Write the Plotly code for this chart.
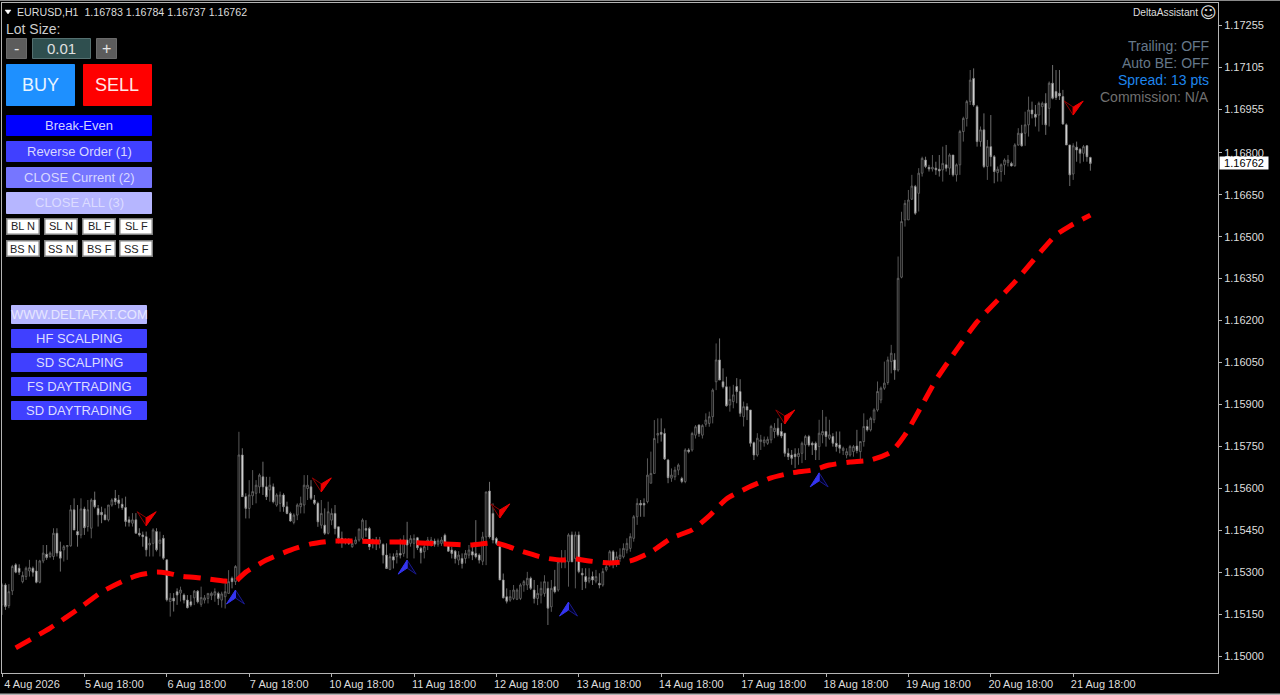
import plotly.graph_objects as go

# Prices are stored in points above 1.15000
BASE = 1.15
opens = [
183,254,180,233,326,314,266,284,304,314,
304,264,340,364,356,356,439,374,380,391,
394,523,445,433,526,463,457,558,528,514,
505,487,540,564,558,543,531,487,475,487,
439,433,427,397,403,445,403,421,344,195,
207,230,225,218,200,194,208,232,185,200,
206,216,218,224,200,212,224,278,266,272,
719,570,528,573,582,605,641,605,594,605,
540,546,576,534,510,478,504,534,540,599,
605,558,546,468,468,439,486,510,462,421,
415,415,391,403,415,421,456,456,415,415,
403,399,361,310,355,355,367,367,415,403,
403,423,385,373,403,403,411,400,403,432,
399,379,375,343,349,349,361,373,367,361,
339,426,590,510,420,391,272,212,200,206,
203,206,254,254,278,236,206,218,224,242,
176,248,236,337,337,337,433,349,433,296,
284,268,284,268,260,254,308,337,373,337,
349,355,379,385,421,498,546,546,552,618,
653,790,800,796,701,636,641,665,635,624,
737,737,790,826,790,829,832,856,981,1059,
981,963,898,910,964,946,856,892,880,763,
719,767,763,761,773,803,815,803,797,725,
719,722,713,725,755,785,761,761,749,791,
803,779,785,761,755,735,719,719,731,751,
731,767,821,809,845,880,916,958,978,1053,
1059,1023,1355,1560,1560,1634,1679,1655,1727,1774,
1748,1742,1745,1741,1739,1757,1745,1792,1721,1757,
1876,1923,1983,2066,1965,1840,1882,1751,1822,1786,
1729,1733,1757,1765,1762,1753,1828,1870,1870,1900,
1953,1938,1935,1965,1977,1959,2049,2019,2013,2001,
1900,1828,1724,1820,1813,1798,1825,1783]
highs = [
260,260,257,326,332,328,302,320,344,320,
344,344,397,397,374,457,457,409,397,397,
540,564,540,564,534,558,564,588,540,534,
528,540,564,594,576,564,570,499,511,511,
457,445,445,421,457,457,445,433,344,225,
225,242,248,224,218,218,236,236,248,218,
224,230,242,230,230,266,307,284,325,802,
743,582,629,665,629,653,695,641,641,617,
582,588,582,552,516,510,546,570,647,647,
629,576,552,558,528,552,528,540,462,445,
421,421,415,427,456,492,486,462,420,426,
426,403,403,367,367,379,420,432,480,432,
435,426,391,397,426,426,420,420,426,438,
403,391,379,375,367,379,397,403,486,367,
444,587,623,546,426,391,295,242,236,254,
242,260,272,301,284,272,254,266,289,266,
272,308,337,379,379,439,445,445,445,314,
314,314,302,308,296,314,337,379,379,373,
385,403,421,439,504,564,558,564,707,731,
844,850,850,814,705,671,677,689,641,743,
743,802,826,829,829,868,874,957,1118,1136,
1029,999,964,970,994,990,910,904,880,767,
797,791,785,785,827,833,850,833,797,743,
737,743,743,767,791,791,767,767,845,880,
856,845,797,803,803,749,743,755,755,809,
767,868,845,856,886,982,964,1053,1071,1113,
1083,1429,1589,1631,1667,1721,1685,1745,1786,1786,
1757,1792,1768,1792,1822,1828,1798,1792,1762,1882,
1929,1989,2096,2102,1971,1894,1941,1846,1935,1792,
1751,1762,1780,1792,1768,1834,1888,1900,1947,2001,
1983,1971,1983,1983,2013,2055,2114,2096,2096,2025,
1905,1828,1834,1840,1816,1828,1828,1786]
lows = [
147,165,171,218,296,290,260,272,284,284,
260,260,332,344,350,344,356,302,338,344,
391,451,391,421,433,445,421,528,463,475,
487,481,534,540,528,523,463,463,463,439,
427,391,356,356,356,374,356,344,195,141,
159,183,195,188,170,176,182,188,176,188,
188,200,194,182,173,170,224,242,254,266,
570,492,492,540,546,582,576,558,552,546,
534,516,516,507,480,471,486,510,510,558,
558,540,462,456,433,435,468,435,403,387,
399,397,387,399,409,415,426,379,385,379,
385,331,313,307,313,331,349,355,349,391,
349,379,331,349,379,391,391,391,394,394,
373,349,331,325,313,331,349,343,349,331,
325,325,420,403,397,272,206,188,194,200,
200,200,230,236,236,188,182,188,212,111,
158,224,230,314,314,248,337,242,296,236,
242,260,254,260,242,248,302,319,314,319,
337,349,367,373,409,469,498,498,546,618,
653,761,767,701,618,623,629,647,618,618,
725,731,778,784,778,820,820,832,951,987,
957,892,874,886,904,856,821,844,749,701,
713,737,749,755,761,779,785,779,713,701,
684,672,684,690,701,749,719,701,701,761,
749,773,749,731,725,719,707,713,713,725,
696,749,803,803,833,874,904,952,970,1011,
988,1017,1351,1536,1560,1631,1578,1590,1715,1745,
1733,1733,1721,1715,1697,1733,1721,1715,1697,1721,
1840,1894,1971,1965,1822,1822,1745,1703,1751,1691,
1697,1697,1721,1751,1751,1751,1825,1822,1825,1858,
1923,1894,1876,1900,1864,1894,1991,1989,1989,1900,
1828,1681,1703,1768,1762,1768,1768,1736]
closes = [
254,177,230,320,300,300,288,314,316,300,
264,340,368,352,368,439,368,350,391,395,
523,451,433,526,459,523,558,534,505,505,
487,540,558,552,546,531,481,478,487,439,
433,427,380,403,451,380,415,350,201,207,
197,218,236,200,173,182,232,194,209,208,
224,224,230,206,222,230,266,266,320,719,
570,528,576,588,611,647,605,570,611,552,
576,576,534,510,483,504,540,546,611,611,
564,546,480,510,439,516,510,456,421,411,
406,403,403,415,454,486,450,391,409,403,
415,361,313,355,343,367,361,415,397,420,
420,387,370,391,415,415,400,412,415,399,
375,367,349,361,331,367,379,361,355,343,
426,587,426,415,403,272,208,196,212,236,
236,254,266,278,242,206,224,242,266,171,
242,230,337,349,343,433,337,433,302,290,
266,280,272,284,254,302,319,373,331,355,
361,385,403,427,498,546,540,540,647,653,
778,796,793,705,638,647,665,683,624,737,
731,796,820,796,824,844,856,951,1059,987,
963,895,918,934,946,868,892,880,761,719,
779,773,773,775,821,815,791,787,725,713,
707,713,725,761,785,755,755,737,797,803,
785,791,761,749,743,743,731,749,749,735,
767,821,809,850,880,946,958,976,1059,1083,
1023,1351,1554,1619,1631,1681,1584,1727,1780,1751,
1742,1748,1739,1735,1762,1745,1792,1721,1757,1876,
1923,1983,2060,1971,1840,1882,1751,1822,1786,1733,
1741,1757,1774,1774,1753,1828,1870,1825,1900,1953,
1939,1927,1977,1977,1900,2049,1995,1998,2003,1903,
1828,1721,1825,1810,1798,1822,1786,1762]
assert len(opens) == len(highs) == len(lows) == len(closes)

ma_bars = [4,14,23,29,36,40,45,48,52,58,65,68,71,77,84,90,96,100,104,110,116,122,129,136,144,151,158,163,167,171,177,183,189,195,201,206,211,217,224,230,236,241,247,253,259,263,268,272,278,284,290,295,301,307,311,317]
ma_pts = [29,100,175,229,272,290,300,297,286,279,268,268,300,343,379,401,411,411,411,408,408,404,401,397,404,376,351,343,347,340,333,340,372,422,451,501,562,601,637,655,665,683,694,701,730,791,898,987,1095,1195,1273,1338,1424,1506,1538,1577]

sell_bars = [42,93,145,228,312]
sell_pts = [466,587,494,830,1935]
buy_bars = [68,118,165,238]
buy_pts = [236,343,193,655]

x_ticks = [0,24,48,72,96,120,144,168,192,216,240,264,288,312]
x_labels = ["4 Aug 2026","5 Aug 18:00","6 Aug 18:00","7 Aug 18:00","10 Aug 18:00","11 Aug 18:00","12 Aug 18:00","13 Aug 18:00","14 Aug 18:00","17 Aug 18:00","18 Aug 18:00","19 Aug 18:00","20 Aug 18:00","21 Aug 18:00"]
y_labels = ["1.15000","1.15150","1.15300","1.15450","1.15600","1.15750","1.15900","1.16050","1.16200","1.16350","1.16500","1.16650","1.16800","1.16955","1.17105","1.17255"]

W, H = 1280, 695
L, R, T, B = 2, 1218, 3, 673
FONT = "Liberation Sans"
bars = list(range(len(opens)))
to_price = lambda seq: [BASE + p / 1e5 for p in seq]

fig = go.Figure()
fig.add_trace(go.Candlestick(
    x=bars, open=to_price(opens), high=to_price(highs), low=to_price(lows), close=to_price(closes),
    increasing=dict(line=dict(color="#6e6e6e", width=0.8), fillcolor="#000000"),
    decreasing=dict(line=dict(color="#8c8c8c", width=0.8), fillcolor="#e6e6e6"),
    whiskerwidth=0, showlegend=False, hoverinfo="skip"))
fig.add_trace(go.Scatter(
    x=ma_bars, y=to_price(ma_pts), mode="lines",
    line=dict(color="#ff0000", width=5, dash="17px,10px", shape="spline", smoothing=0.6),
    showlegend=False, hoverinfo="skip"))

shapes, annos = [], []
px = lambda v: (v - L) / (R - L)
py = lambda v: (B - v) / (B - T)

def rect(x0, y0, x1, y1, fill, line=None, lw=1):
    i = lw / 2
    shapes.append(dict(type="rect", xref="paper", yref="paper", x0=px(x0 + i), x1=px(x1 - i), y0=py(y0 + i), y1=py(y1 - i),
                       fillcolor=fill, line=dict(color=line or fill, width=lw), layer="above"))

def label(x, y, text, color="#dddddd", size=13, anchor="center", font=FONT):
    annos.append(dict(xref="paper", yref="paper", x=px(x), y=py(y), text=text, showarrow=False,
                      xanchor=anchor, yanchor="middle", font=dict(family=font, size=size, color=color),
                      borderpad=0, borderwidth=0))

def button(x0, y0, x1, y1, fill, text, color="#dddddd", size=13, line=None, lw=1):
    rect(x0, y0, x1, y1, fill, line, lw)
    label((x0 + x1) / 2, (y0 + y1) / 2, text, color, size)

# Arrows: glyph outlines in pixels, anchored on their data points
for k, p in zip(sell_bars, sell_pts):
    y = BASE + p / 1e5
    common = dict(type="path", xref="x", yref="y", xsizemode="pixel", ysizemode="pixel", xanchor=k, yanchor=y, layer="above")
    shapes.append(dict(common, path="M0,0 L-9,14 L0,8 Z", fillcolor="#000000", line=dict(color="#900000", width=1)))
    shapes.append(dict(common, path="M0,0 L10,14 L0,8 Z", fillcolor="#ee0000", line=dict(color="#ee0000", width=1)))
for k, p in zip(buy_bars, buy_pts):
    y = BASE + p / 1e5
    common = dict(type="path", xref="x", yref="y", xsizemode="pixel", ysizemode="pixel", xanchor=k, yanchor=y, layer="above")
    shapes.append(dict(common, path="M0,0 L9,-14 L0,-8 Z", fillcolor="#000020", line=dict(color="#1a1a90", width=1)))
    shapes.append(dict(common, path="M0,0 L-9,-14 L0,-8 Z", fillcolor="#3434f0", line=dict(color="#3434f0", width=1)))

# Window edges
shapes.append(dict(type="rect", xref="paper", yref="paper", x0=-L/(R-L), x1=(W-L)/(R-L), y0=1.0+2/(B-T), y1=1.0+T/(B-T),
                   fillcolor="#8a8a8a", line=dict(width=0), layer="above"))
shapes.append(dict(type="rect", xref="paper", yref="paper", x0=-L/(R-L), x1=(W-L)/(R-L), y0=-(H-B)/(B-T), y1=-(H-B-1.5)/(B-T),
                   fillcolor="#b0b0b0", line=dict(width=0), layer="above"))

# Header
shapes.append(dict(type="path", xref="paper", yref="paper", path=f"M {px(5)},{py(10)} L {px(11)},{py(10)} L {px(8)},{py(14)} Z",
                   fillcolor="#ffffff", line=dict(color="#ffffff", width=0.5), layer="above"))
label(17, 12, "EURUSD,H1  1.16783 1.16784 1.16737 1.16762", "#dddddd", 10.65, "left")
label(1198, 12.5, "DeltaAssistant", "#dddddd", 10.2, "right")
label(1208, 12.5, "☺", "#dddddd", 16, "center", "DejaVu Sans")

# Info text
label(1209, 46, "Trailing: OFF", "#66788a", 14, "right")
label(1209, 63, "Auto BE: OFF", "#66788a", 14, "right")
label(1209, 80, "Spread: 13 pts", "#1e86ee", 14, "right")
label(1209, 97, "Commission: N/A", "#707070", 14, "right")

# Trade panel
label(6, 29, "Lot Size:", "#cccccc", 14, "left")
button(6, 38, 27, 59, "#5c5c5c", "-", "#e6e6e6", 16, "#6a6a6a")
button(32, 38, 91, 59, "#2f4f4f", "0.01", "#e0e0e0", 15, "#557070")
button(96, 38, 117, 59, "#5c5c5c", "+", "#e6e6e6", 16, "#6a6a6a")
button(6, 64, 75, 106, "#1e90ff", "BUY", "#e8f4ff", 18)
button(83, 64, 152, 106, "#ff0000", "SELL", "#ffe8e8", 18)
button(6, 115, 152, 136, "#0000ff", "Break-Even", "#d0d0ff", 13)
button(6, 141, 152, 162, "#4040ff", "Reverse Order (1)", "#d8d8ff", 13)
button(6, 167, 152, 188, "#7676ff", "CLOSE Current (2)", "#d8d8ff", 13)
button(6, 192, 152, 214, "#b6b6ff", "CLOSE ALL (3)", "#dcdcff", 13)
small_left = [6, 44, 82, 119]
for row_top, names in ((218, ["BL N", "SL N", "BL F", "SL F"]), (240, ["BS N", "SS N", "BS F", "SS F"])):
    for x0, name in zip(small_left, names):
        button(x0, row_top, x0 + 34, row_top + 17, "#ffffff", name, "#222222", 11, "#808080", 1.5)

# Links panel
button(11, 305, 147, 324, "#b6b6ff", "WWW.DELTAFXT.COM", "#e6e6ff", 13)
button(11, 329, 147, 348, "#4040ff", "HF SCALPING", "#dcdcff", 13)
button(11, 353, 147, 372, "#4040ff", "SD SCALPING", "#dcdcff", 13)
button(11, 377, 147, 396, "#4040ff", "FS DAYTRADING", "#dcdcff", 13)
button(11, 401, 147, 420, "#4040ff", "SD DAYTRADING", "#dcdcff", 13)

# Current price tag
annos.append(dict(xref="paper", yref="y", x=1.0, y=BASE + closes[-1] / 1e5, text="1.16762", showarrow=False,
                  xanchor="left", yanchor="middle", bgcolor="#ffffff", borderpad=0, xshift=1,
                  font=dict(family=FONT, size=11, color="#000000"), width=48, height=12, align="center"))

fig.update_layout(
    width=W, height=H, autosize=False,
    paper_bgcolor="#000000", plot_bgcolor="#000000",
    margin=dict(l=L, r=W - R, t=T, b=H - B),
    showlegend=False, shapes=shapes, annotations=annos,
    font=dict(family=FONT, size=11, color="#dddddd"),
    xaxis=dict(type="linear", range=[0, (R - L) / (82.4 / 24)], rangeslider=dict(visible=False),
               tickmode="array", tickvals=x_ticks, ticktext=x_labels, ticklabelshift=30, ticklabelstandoff=-2,
               showgrid=False, zeroline=False, showline=True, mirror=True, linecolor="#b4b4b4", linewidth=1,
               ticks="outside", ticklen=3, tickcolor="#b4b4b4", tickfont=dict(family=FONT, size=11, color="#dddddd")),
    yaxis=dict(side="right", range=[BASE + (656 - B) * 3.577 / 1e5, BASE + (656 - T) * 3.577 / 1e5],
               tickmode="array", tickvals=[float(s) for s in y_labels], ticktext=y_labels,
               showgrid=False, zeroline=False, showline=True, mirror=True, linecolor="#b4b4b4", linewidth=1,
               ticks="outside", ticklen=3, tickcolor="#b4b4b4", tickfont=dict(family=FONT, size=11, color="#dddddd")),
)
fig.write_html("out.html", config=dict(displayModeBar=False),
               post_script="document.body.style.margin='0';document.body.style.background='#000';document.documentElement.style.overflow='hidden';")
